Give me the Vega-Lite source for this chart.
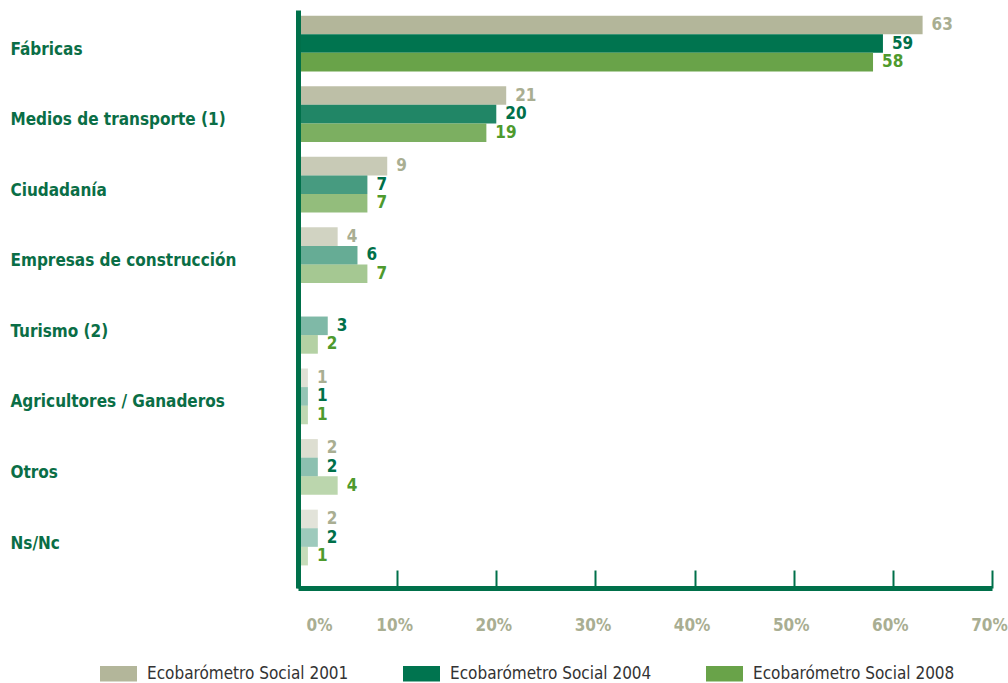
{
  "$schema": "https://vega.github.io/schema/vega-lite/v6.json",
  "width": 694,
  "height": 578,
  "autosize": {"type": "none"},
  "padding": {"left": 298, "top": 10, "right": 16, "bottom": 95},
  "background": "white",
  "config": {
    "view": {"stroke": null},
    "font": "DejaVu Sans Condensed, Liberation Sans Narrow, sans-serif"
  },
  "data": {
    "values": [
      {"cat": "Fábricas", "year": "Ecobarómetro Social 2001", "v": 63},
      {"cat": "Fábricas", "year": "Ecobarómetro Social 2004", "v": 59},
      {"cat": "Fábricas", "year": "Ecobarómetro Social 2008", "v": 58},
      {"cat": "Medios de transporte (1)", "year": "Ecobarómetro Social 2001", "v": 21},
      {"cat": "Medios de transporte (1)", "year": "Ecobarómetro Social 2004", "v": 20},
      {"cat": "Medios de transporte (1)", "year": "Ecobarómetro Social 2008", "v": 19},
      {"cat": "Ciudadanía", "year": "Ecobarómetro Social 2001", "v": 9},
      {"cat": "Ciudadanía", "year": "Ecobarómetro Social 2004", "v": 7},
      {"cat": "Ciudadanía", "year": "Ecobarómetro Social 2008", "v": 7},
      {"cat": "Empresas de construcción", "year": "Ecobarómetro Social 2001", "v": 4},
      {"cat": "Empresas de construcción", "year": "Ecobarómetro Social 2004", "v": 6},
      {"cat": "Empresas de construcción", "year": "Ecobarómetro Social 2008", "v": 7},
      {"cat": "Turismo (2)", "year": "Ecobarómetro Social 2004", "v": 3},
      {"cat": "Turismo (2)", "year": "Ecobarómetro Social 2008", "v": 2},
      {"cat": "Agricultores / Ganaderos", "year": "Ecobarómetro Social 2001", "v": 1},
      {"cat": "Agricultores / Ganaderos", "year": "Ecobarómetro Social 2004", "v": 1},
      {"cat": "Agricultores / Ganaderos", "year": "Ecobarómetro Social 2008", "v": 1},
      {"cat": "Otros", "year": "Ecobarómetro Social 2001", "v": 2},
      {"cat": "Otros", "year": "Ecobarómetro Social 2004", "v": 2},
      {"cat": "Otros", "year": "Ecobarómetro Social 2008", "v": 4},
      {"cat": "Ns/Nc", "year": "Ecobarómetro Social 2001", "v": 2},
      {"cat": "Ns/Nc", "year": "Ecobarómetro Social 2004", "v": 2},
      {"cat": "Ns/Nc", "year": "Ecobarómetro Social 2008", "v": 1}
    ]
  },
  "encoding": {
    "y": {
      "field": "cat",
      "type": "nominal",
      "sort": ["Fábricas", "Medios de transporte (1)", "Ciudadanía", "Empresas de construcción", "Turismo (2)", "Agricultores / Ganaderos", "Otros", "Ns/Nc"],
      "scale": {"paddingInner": 0.21, "paddingOuter": 0.2, "align": 0.2},
      "axis": {
        "title": null,
        "ticks": false,
        "labelAlign": "left",
        "labelPadding": 288,
        "labelLimit": 400,
        "labelOffset": 6,
        "labelFontSize": 17,
        "labelFontWeight": "bold",
        "labelColor": "#0a6e46",
        "domainColor": "#00704a",
        "domainWidth": 5,
        "zindex": 2
      }
    },
    "x": {
      "field": "v",
      "type": "quantitative",
      "scale": {"domain": [0, 70], "nice": false},
      "axis": {
        "title": null,
        "values": [0, 10, 20, 30, 40, 50, 60, 70],
        "labelExpr": "datum.value + '%'",
        "grid": false,
        "domainColor": "#00704a",
        "domainWidth": 5,
        "tickColor": "#00704a",
        "tickWidth": 2,
        "tickSize": -18,
        "labelPadding": 47,
        "labelFontSize": 17,
        "labelFontWeight": "bold",
        "labelColor": "#a9ae92",
        "labelFlush": false,
        "labelOffset": {"condition": {"test": "datum.value === 0", "value": 21}, "value": -3},
        "zindex": 2
      }
    },
    "yOffset": {
      "field": "year",
      "type": "nominal",
      "scale": {"paddingInner": 0, "paddingOuter": 0}
    }
  },
  "layer": [
    {
      "mark": {"type": "bar"},
      "encoding": {
        "color": {
          "field": "year",
          "type": "nominal",
          "scale": {"range": ["#b3b69a", "#00744f", "#69a349"]},
          "legend": {
            "title": null,
            "orient": "none",
            "direction": "horizontal",
            "legendX": -198,
            "legendY": 645,
            "symbolType": "M-1,-0.42L1,-0.42L1,0.42L-1,0.42Z",
            "symbolSize": 1369,
            "symbolStrokeWidth": 0,
            "symbolOpacity": 1,
            "labelFontSize": 17,
            "labelFont": "DejaVu Sans Condensed, Liberation Sans Narrow, sans-serif",
            "labelColor": "#333333",
            "labelOffset": 10,
            "labelLimit": 400,
            "columnPadding": 54
          }
        },
        "opacity": {
          "field": "cat",
          "type": "ordinal",
          "scale": {
            "type": "ordinal",
            "domain": ["Fábricas", "Medios de transporte (1)", "Ciudadanía", "Empresas de construcción", "Turismo (2)", "Agricultores / Ganaderos", "Otros", "Ns/Nc"],
            "range": [1, 0.87, 0.72, 0.6, 0.5, 0.42, 0.45, 0.38]
          },
          "legend": null
        }
      }
    },
    {
      "mark": {"type": "text", "align": "left", "baseline": "middle", "dx": 9, "fontSize": 17, "fontWeight": "bold"},
      "encoding": {
        "text": {"field": "v", "type": "quantitative"},
        "color": {
          "field": "year",
          "type": "nominal",
          "scale": {"range": ["#a9ae92", "#00704a", "#4e9a2d"]},
          "legend": null
        }
      }
    }
  ],
  "resolve": {"scale": {"color": "independent"}}
}
